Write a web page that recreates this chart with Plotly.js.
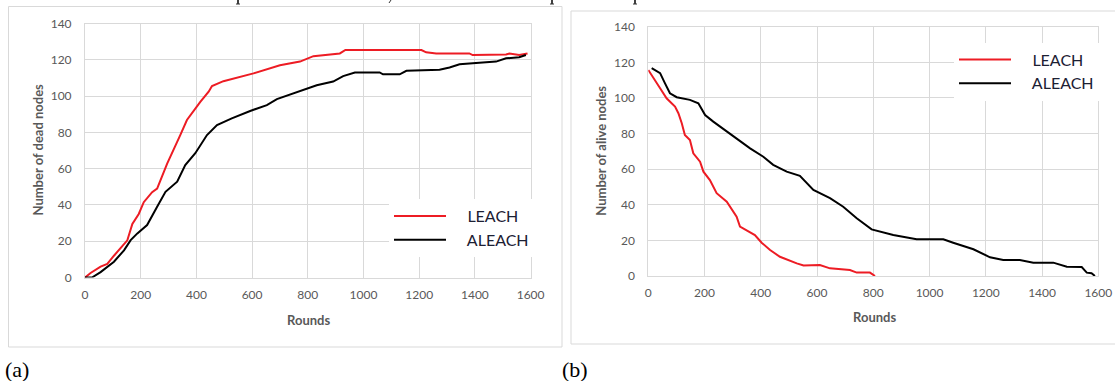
<!DOCTYPE html>
<html>
<head>
<meta charset="utf-8">
<script src="https://cdn.plot.ly/plotly-3.0.1.min.js"></script>
<style>
  html, body { margin: 0; padding: 0; background: #ffffff; }
  #chart { width: 1115px; height: 381px; }
</style>
</head>
<body>
<div id="chart"></div>
<script>
// ---- Data ----
const seriesNames = ["LEACH", "ALEACH"];

// (a) Number of dead nodes vs rounds
const leachDeadX = [0, 20, 56, 80, 104, 128, 152, 170, 193, 211, 241, 259, 295, 342, 366, 414, 444, 456, 497, 605, 700, 772, 820, 915, 935, 1208, 1225, 1261, 1380, 1392, 1512, 1524, 1559, 1589];
const leachDeadY = [0, 2.5, 6, 7.5, 12, 16, 20.5, 29.5, 35, 41.5, 47, 49, 62.8, 78.5, 86.8, 96.8, 102.4, 105.5, 108.2, 112.5, 117, 119, 122, 123.5, 125.4, 125.4, 124.1, 123.5, 123.5, 122.6, 122.9, 123.5, 122.6, 123.5];
const aleachDeadX = [0, 25, 56, 104, 140, 164, 188, 223, 259, 289, 331, 360, 396, 438, 474, 527, 593, 653, 689, 772, 832, 891, 927, 969, 1058, 1070, 1130, 1154, 1273, 1309, 1345, 1416, 1476, 1512, 1559, 1583];
const aleachDeadY = [0, 0, 3, 8.7, 15, 20.6, 24.3, 28.9, 39, 47.2, 52.8, 62, 68.5, 78.5, 84, 87.7, 91.8, 95, 98.3, 102.8, 106, 108, 111, 113, 113, 112, 112, 113.9, 114.5, 115.8, 117.5, 118.4, 119, 120.8, 121.4, 122.6];

// (b) Number of alive nodes vs rounds
const leachAliveX = [0, 18, 42, 65, 95, 107, 119, 130, 148, 160, 184, 196, 219, 243, 279, 314, 326, 379, 403, 433, 468, 528, 552, 610, 646, 717, 741, 788, 806];
const leachAliveY = [115.7, 111, 105.4, 99.8, 95.1, 91.4, 85.8, 79.2, 76.4, 68.9, 64.2, 58.6, 53.9, 46.5, 41.7, 33.3, 27.7, 23, 18.7, 14.6, 10.8, 7.1, 5.9, 6.2, 4.3, 3.4, 1.9, 1.9, 0];
const aleachAliveX = [12, 42, 59, 77, 101, 148, 178, 202, 231, 302, 362, 409, 444, 492, 539, 587, 646, 693, 741, 794, 871, 954, 1049, 1084, 1156, 1215, 1262, 1321, 1369, 1440, 1488, 1541, 1559, 1576, 1588];
const aleachAliveY = [116.7, 113.9, 108.3, 102.6, 100.4, 98.9, 97, 90.4, 86.7, 78.3, 71.7, 67, 62.4, 58.6, 56.2, 48.3, 43.7, 38.9, 32.4, 26.2, 23, 20.6, 20.6, 18.7, 15, 10.5, 9, 9, 7.5, 7.5, 5.2, 5, 1.9, 1.6, 0];

// Axis ticks and labels
const xTicks = [0, 200, 400, 600, 800, 1000, 1200, 1400, 1600];
const yTicks = [0, 20, 40, 60, 80, 100, 120, 140];
const xTitle = "Rounds";
const yTitleA = "Number of dead nodes";
const yTitleB = "Number of alive nodes";
const panelLabels = ["(a)", "(b)"];

// ---- Styling ----
const W = 1115, H = 381;
const px = v => v / W;
const py = v => 1 - v / H;
const RED = "rgb(237,28,36)";
const BLACK = "#000000";
const SANS = "Lato, 'Open Sans', sans-serif";
const SERIF = "'Liberation Serif', 'DejaVu Serif', serif";
const tickFont = { family: SANS, size: 12, color: "#595959" };
const titleFont = { family: SANS, size: 13, color: "#595959", weight: "bold" };
const legendFont = { family: SANS, size: 16, color: "#1c2033" };
const pad = s => "\u00a0\u00a0\u00a0\u00a0" + s;

const traces = [
  { x: leachDeadX, y: leachDeadY, name: pad(seriesNames[0]), type: "scatter", mode: "lines",
    line: { color: RED, width: 2 }, xaxis: "x", yaxis: "y", legend: "legend" },
  { x: aleachDeadX, y: aleachDeadY, name: pad(seriesNames[1]), type: "scatter", mode: "lines",
    line: { color: BLACK, width: 2 }, xaxis: "x", yaxis: "y", legend: "legend" },
  { x: leachAliveX, y: leachAliveY, name: pad(seriesNames[0]), type: "scatter", mode: "lines",
    line: { color: RED, width: 2 }, xaxis: "x2", yaxis: "y2", legend: "legend2" },
  { x: aleachAliveX, y: aleachAliveY, name: pad(seriesNames[1]), type: "scatter", mode: "lines",
    line: { color: BLACK, width: 2 }, xaxis: "x2", yaxis: "y2", legend: "legend2" }
];

function xAxis(domain, anchor) {
  return {
    domain: domain, anchor: anchor, range: [0, 1600],
    tickmode: "array", tickvals: xTicks, ticktext: xTicks.map(String),
    showgrid: true, gridcolor: "#d9d9d9", gridwidth: 1,
    showline: true, linecolor: "#d9d9d9", linewidth: 1, mirror: true,
    zeroline: false, ticks: "", tickfont: tickFont, ticklabelstandoff: 6,
    fixedrange: true
  };
}
function yAxis(domain, anchor) {
  return {
    domain: domain, anchor: anchor, range: [0, 140],
    tickmode: "array", tickvals: yTicks, ticktext: yTicks.map(String),
    showgrid: true, gridcolor: "#d9d9d9", gridwidth: 1,
    showline: true, linecolor: "#d9d9d9", linewidth: 1, mirror: true,
    zeroline: false, ticks: "", tickfont: tickFont, ticklabelstandoff: 10,
    fixedrange: true
  };
}

const legendCommon = {
  orientation: "v", bgcolor: "#ffffff", borderwidth: 0, font: legendFont,
  itemwidth: 52, xanchor: "left", yanchor: "top", traceorder: "normal",
  itemclick: false, itemdoubleclick: false
};

// small dark stems at the very top edge: descenders of a cropped caption line
const stemX = [238, 552, 635];
const stemShapes = [];
stemX.forEach(x => {
  stemShapes.push({ type: "line", xref: "paper", yref: "paper", x0: px(x), x1: px(x), y0: py(0), y1: py(4),
    line: { color: "#111111", width: 1.6 } });
  stemShapes.push({ type: "line", xref: "paper", yref: "paper", x0: px(x - 2), x1: px(x + 2), y0: py(4), y1: py(4),
    line: { color: "#333333", width: 1 } });
});
stemShapes.push({ type: "line", xref: "paper", yref: "paper", x0: px(391), x1: px(389), y0: py(0), y1: py(3),
  line: { color: "#333333", width: 1 } });

const layout = {
  width: W, height: H,
  margin: { l: 0, r: 0, t: 0, b: 0, pad: 0 },
  paper_bgcolor: "#ffffff", plot_bgcolor: "#ffffff",
  showlegend: true,
  xaxis: xAxis([px(85), px(530.6)], "y"),
  yaxis: yAxis([py(277.5), py(23.5)], "x"),
  xaxis2: xAxis([px(648.3), px(1098.3)], "y2"),
  yaxis2: yAxis([py(276), py(26.7)], "x2"),
  legend: Object.assign({}, legendCommon, { x: px(389), y: py(199) }),
  legend2: Object.assign({}, legendCommon, { x: px(954), y: py(42.5) }),
  shapes: [
    { type: "rect", xref: "paper", yref: "paper", x0: px(8.5), x1: px(562), y0: py(347), y1: py(6.5),
      line: { color: "#d9d9d9", width: 1 }, fillcolor: "rgba(0,0,0,0)", layer: "below" },
    { type: "rect", xref: "paper", yref: "paper", x0: px(571), x1: px(1120), y0: py(344), y1: py(11),
      line: { color: "#d9d9d9", width: 1 }, fillcolor: "rgba(0,0,0,0)", layer: "below" }
  ].concat(stemShapes),
  annotations: [
    { text: xTitle, xref: "paper", yref: "paper", x: px(308), y: py(319.5), xanchor: "center", yanchor: "middle",
      showarrow: false, font: titleFont },
    { text: xTitle, xref: "paper", yref: "paper", x: px(874), y: py(316.5), xanchor: "center", yanchor: "middle",
      showarrow: false, font: titleFont },
    { text: yTitleA, xref: "paper", yref: "paper", x: px(37.5), y: py(150), xanchor: "center", yanchor: "middle",
      textangle: -90, showarrow: false, font: titleFont },
    { text: yTitleB, xref: "paper", yref: "paper", x: px(600.7), y: py(151), xanchor: "center", yanchor: "middle",
      textangle: -90, showarrow: false, font: titleFont },
    { text: panelLabels[0], xref: "paper", yref: "paper", x: px(17), y: py(369), xanchor: "center", yanchor: "middle",
      showarrow: false, font: { family: SERIF, size: 22, color: "#000000" } },
    { text: panelLabels[1], xref: "paper", yref: "paper", x: px(575), y: py(369), xanchor: "center", yanchor: "middle",
      showarrow: false, font: { family: SERIF, size: 22, color: "#000000" } }
  ]
};

Plotly.newPlot("chart", traces, layout, { staticPlot: true, displayModeBar: false });
</script>
</body>
</html>
